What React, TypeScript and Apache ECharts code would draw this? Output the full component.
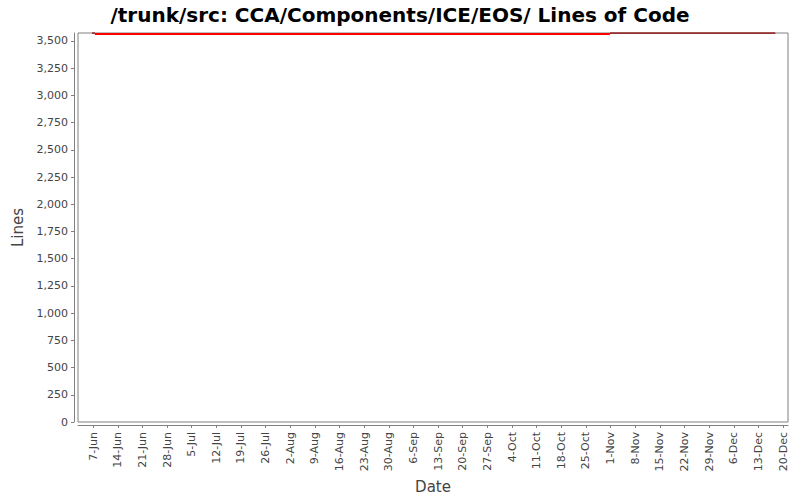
import { useRef, useEffect } from 'react'
import * as echarts from 'echarts'

// ── data ──────────────────────────────────────────────────────────
// x is days counted from 7-Jun
const tickDays = [0, 7, 14, 21, 28, 35, 42, 49, 56, 63, 70, 77, 84, 91, 98, 105, 112, 119, 126, 133, 140, 147, 154, 161, 168, 175, 182, 189, 196]
const tickLabels = [
  '7-Jun', '14-Jun', '21-Jun', '28-Jun', '5-Jul', '12-Jul', '19-Jul', '26-Jul',
  '2-Aug', '9-Aug', '16-Aug', '23-Aug', '30-Aug', '6-Sep', '13-Sep', '20-Sep',
  '27-Sep', '4-Oct', '11-Oct', '18-Oct', '25-Oct', '1-Nov', '8-Nov', '15-Nov',
  '22-Nov', '29-Nov', '6-Dec', '13-Dec', '20-Dec',
]
const yTicks = [0, 250, 500, 750, 1000, 1250, 1500, 1750, 2000, 2250, 2500, 2750, 3000, 3250, 3500]

const redLine: [number, number][] = [[0.5, 3564], [146.8, 3564]]
const darkLine: ([number, number] | null)[] = [[-0.3, 3573], [0.5, 3573], null, [146.8, 3573], [193.8, 3573]]

const FONT = 'DejaVu Sans, sans-serif'

function buildOption(): echarts.EChartsOption {
  return {
    animation: false,
    backgroundColor: '#ffffff',
    title: {
      text: '/trunk/src: CCA/Components/ICE/EOS/ Lines of Code',
      left: 'center', top: 0,
      textStyle: { fontFamily: FONT, fontSize: 20, fontWeight: 'bold', color: '#000' },
    },
    grid: {
      left: 78, right: 12, top: 33, bottom: 78,
      show: true, borderColor: '#808080', borderWidth: 1,
      containLabel: false,
    },
    xAxis: {
      type: 'value',
      min: -4.3, max: 197.4,
      offset: 3,
      name: 'Date', nameLocation: 'middle', nameGap: 52,
      nameTextStyle: { fontFamily: FONT, fontSize: 15, color: '#444' },
      axisLine: { show: true, onZero: false, lineStyle: { color: '#808080' } },
      axisTick: { show: true, length: 3, lineStyle: { color: '#808080' }, customValues: tickDays },
      axisLabel: {
        rotate: 90, margin: 7,
        fontFamily: FONT, fontSize: 11, color: '#444',
        customValues: tickDays,
        formatter: (v: number) => {
          const i = tickDays.indexOf(Math.round(v))
          return i >= 0 ? tickLabels[i] : ''
        },
      },
      splitLine: { show: false },
    },
    yAxis: {
      type: 'value',
      min: 0, max: 3573,
      offset: 4,
      name: 'Lines', nameLocation: 'middle', nameGap: 45,
      nameTextStyle: { fontFamily: FONT, fontSize: 15, color: '#444' },
      axisLine: { show: true, onZero: false, lineStyle: { color: '#808080' } },
      axisTick: { show: true, length: 3, lineStyle: { color: '#808080' }, customValues: yTicks },
      axisLabel: {
        margin: 6,
        fontFamily: FONT, fontSize: 11, color: '#444',
        customValues: yTicks,
        formatter: (v: number) => v.toLocaleString('en-US'),
      },
      splitLine: { show: false },
    },
    series: [
      {
        name: 'Lines', type: 'line', data: redLine,
        symbol: 'none', lineStyle: { color: '#ff0000', width: 2 },
      },
      {
        name: 'Lines2', type: 'line', data: darkLine as any,
        symbol: 'none', connectNulls: false,
        lineStyle: { color: '#8b0000', width: 1.5 },
      },
    ],
  } as echarts.EChartsOption
}

export default function App() {
  const ref = useRef<HTMLDivElement>(null)

  useEffect(() => {
    if (!ref.current) return
    const chart = echarts.init(ref.current, undefined, { renderer: 'svg' })
    chart.setOption(buildOption())
    return () => chart.dispose()
  }, [])

  return (
    <div
      ref={ref}
      style={{ position: 'absolute', left: 0, top: 0, width: 800, height: 500, background: '#fff' }}
    />
  )
}
